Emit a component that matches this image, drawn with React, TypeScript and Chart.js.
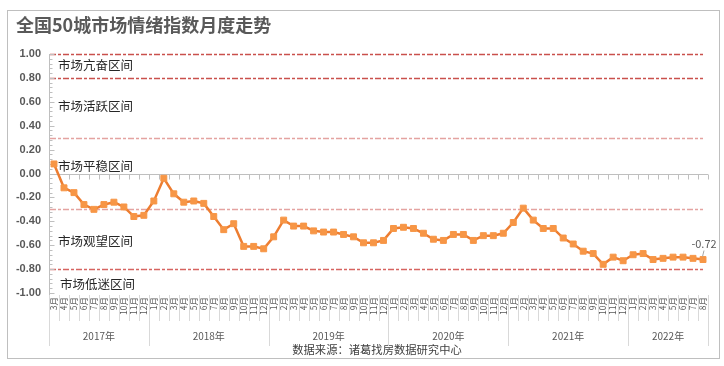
import React, { useEffect, useRef } from 'react';
import { Chart, registerables } from 'chart.js';

Chart.register(...registerables);

const titleText = '全国50城市场情绪指数月度走势';
const sourceText = '数据来源：诸葛找房数据研究中心';

const monthLabels = [
  '3月', '4月', '5月', '6月', '7月', '8月', '9月', '10月', '11月', '12月',
  '1月', '2月', '3月', '4月', '5月', '6月', '7月', '8月', '9月', '10月', '11月', '12月',
  '1月', '2月', '3月', '4月', '5月', '6月', '7月', '8月', '9月', '10月', '11月', '12月',
  '1月', '2月', '3月', '4月', '5月', '6月', '7月', '8月', '9月', '10月', '11月', '12月',
  '1月', '2月', '3月', '4月', '5月', '6月', '7月', '8月', '9月', '10月', '11月', '12月',
  '1月', '2月', '3月', '4月', '5月', '6月', '7月', '8月',
];

const yearLabels = ['2017年', '2018年', '2019年', '2020年', '2021年', '2022年'];
const monthsInYear = [10, 12, 12, 12, 12, 8];

const sentimentIndex = [
  0.08, -0.12, -0.16, -0.26, -0.30, -0.26, -0.24, -0.28, -0.36, -0.35,
  -0.23, -0.04, -0.17, -0.24, -0.23, -0.25, -0.36, -0.47, -0.42, -0.61, -0.61, -0.63,
  -0.53, -0.39, -0.44, -0.44, -0.48, -0.49, -0.49, -0.51, -0.53, -0.58, -0.58, -0.56,
  -0.46, -0.45, -0.46, -0.50, -0.55, -0.56, -0.51, -0.51, -0.56, -0.52, -0.52, -0.50,
  -0.41, -0.29, -0.39, -0.46, -0.46, -0.54, -0.59, -0.65, -0.67, -0.76, -0.70, -0.73,
  -0.68, -0.67, -0.72, -0.71, -0.70, -0.70, -0.71, -0.72,
];

const zoneLineValues = [1.0, 0.8, 0.3, -0.3, -0.8];
const zoneLineColors = ['#C9504C', '#C9504C', '#E4A3A1', '#E4A3A1', '#D66460'];

const zoneNames = ['市场亢奋区间', '市场活跃区间', '市场平稳区间', '市场观望区间', '市场低迷区间'];
const zoneNameValues = [0.905, 0.565, 0.063, -0.565, -0.925];

const CJK = '"Noto Sans CJK SC", "Noto Sans", sans-serif';

const decorPlugin = {
  id: 'decor',
  beforeDraw(chart: any) {
    const ctx = chart.ctx;
    ctx.save();
    ctx.fillStyle = '#ffffff';
    ctx.fillRect(0, 0, chart.width, chart.height);
    ctx.strokeStyle = '#BFBFBF';
    ctx.lineWidth = 1;
    ctx.strokeRect(7.5, 10.5, 712, 348);
    ctx.fillStyle = '#595959';
    ctx.font = `bold 18px ${CJK}`;
    ctx.textBaseline = 'middle';
    ctx.textAlign = 'left';
    ctx.fillText(titleText, 16, 25);
    ctx.fillStyle = '#404040';
    ctx.font = `11.3px ${CJK}`;
    ctx.textAlign = 'center';
    ctx.fillText(sourceText, 377, 350);
    ctx.restore();
  },
  beforeDatasetsDraw(chart: any) {
    const ctx = chart.ctx;
    const x = chart.scales.x;
    const y = chart.scales.y;
    const area = chart.chartArea;
    const n = monthLabels.length;
    const cw = (area.right - area.left) / n;
    ctx.save();
    // zone lines
    const lastX = x.getPixelForValue(n - 1);
    zoneLineValues.forEach((v, i) => {
      const py = Math.round(y.getPixelForValue(v)) + 0.5;
      ctx.strokeStyle = zoneLineColors[i];
      ctx.lineWidth = 1.3;
      ctx.setLineDash([6, 2, 3, 2]);
      ctx.beginPath();
      ctx.moveTo(area.left + 1, py);
      ctx.lineTo(lastX, py);
      ctx.stroke();
    });
    ctx.setLineDash([]);
    // zone names
    ctx.fillStyle = '#262626';
    ctx.font = `12.5px ${CJK}`;
    ctx.textBaseline = 'middle';
    ctx.textAlign = 'left';
    zoneNames.forEach((t, i) => {
      ctx.fillText(t, area.left + (i === 4 ? 11 : 9), y.getPixelForValue(zoneNameValues[i]));
    });
    // y axis line and ticks
    ctx.strokeStyle = '#BFBFBF';
    ctx.lineWidth = 1;
    const ax = Math.round(area.left) + 0.5;
    ctx.beginPath();
    ctx.moveTo(ax, area.top);
    ctx.lineTo(ax, 346);
    ctx.stroke();
    for (let k = 0; k <= 50; k++) {
      const v = -1 + k * 0.04;
      const py = Math.round(y.getPixelForValue(v)) + 0.5;
      const len = k % 5 === 0 ? 5 : 3;
      ctx.beginPath();
      ctx.moveTo(ax, py);
      ctx.lineTo(ax + len, py);
      ctx.stroke();
    }
    // horizontal axis at zero
    const zy = Math.round(y.getPixelForValue(0)) + 0.5;
    ctx.beginPath();
    ctx.moveTo(area.left, zy);
    ctx.lineTo(area.right, zy);
    ctx.stroke();
    for (let i = 0; i <= n; i++) {
      const bx = Math.round(area.left + i * cw) + 0.5;
      ctx.beginPath();
      ctx.moveTo(bx, zy);
      ctx.lineTo(bx, zy + 5);
      ctx.stroke();
    }
    // category separators under plot
    ctx.strokeStyle = '#D9D9D9';
    const yearStarts = new Set<number>();
    let acc = 0;
    yearStarts.add(0);
    monthsInYear.forEach((m) => { acc += m; yearStarts.add(acc); });
    for (let i = 0; i <= n; i++) {
      const bx = Math.round(area.left + i * cw) + 0.5;
      ctx.beginPath();
      ctx.moveTo(bx, area.bottom + 2);
      ctx.lineTo(bx, yearStarts.has(i) ? 346 : 321);
      ctx.stroke();
    }
    // year labels
    ctx.fillStyle = '#595959';
    ctx.font = `10px ${CJK}`;
    ctx.textAlign = 'center';
    let start = 0;
    yearLabels.forEach((t, i) => {
      const cx = area.left + (start + monthsInYear[i] / 2) * cw;
      ctx.fillText(t, cx, 336);
      start += monthsInYear[i];
    });
    ctx.restore();
  },
  afterDatasetsDraw(chart: any) {
    const ctx = chart.ctx;
    const meta = chart.getDatasetMeta(0);
    const last = meta.data[meta.data.length - 1];
    const v = sentimentIndex[sentimentIndex.length - 1];
    ctx.save();
    ctx.strokeStyle = '#A6A6A6';
    ctx.lineWidth = 1;
    ctx.beginPath();
    ctx.moveTo(last.x + 1, last.y - 9);
    ctx.lineTo(last.x - 0.5, last.y - 3);
    ctx.stroke();
    ctx.fillStyle = '#595959';
    ctx.font = `11px ${CJK}`;
    ctx.textAlign = 'center';
    ctx.textBaseline = 'middle';
    ctx.fillText(v.toFixed(2), last.x + 1, last.y - 16);
    ctx.restore();
  },
};

export default function App() {
  const canvasRef = useRef<HTMLCanvasElement | null>(null);

  useEffect(() => {
    const canvas = canvasRef.current;
    if (!canvas) return;
    const chart = new Chart(canvas, {
      type: 'line',
      data: {
        labels: monthLabels,
        datasets: [
          {
            data: sentimentIndex,
            borderColor: '#ED7D31',
            borderWidth: 2.5,
            pointStyle: 'rect',
            pointRadius: 4.2,
            pointBorderWidth: 1,
            pointBackgroundColor: '#F79646',
            pointBorderColor: '#F79646',
            tension: 0,
          },
        ],
      },
      options: {
        animation: false,
        responsive: false,
        layout: { padding: { left: 8, right: 16, top: 54, bottom: 0 } },
        plugins: {
          legend: { display: false },
          tooltip: { enabled: false },
          title: { display: false },
        },
        scales: {
          x: {
            type: 'category',
            offset: true,
            grid: { display: false, drawTicks: false },
            border: { display: false },
            ticks: {
              autoSkip: false,
              maxRotation: 90,
              minRotation: 90,
              padding: 4,
              color: '#595959',
              font: { family: CJK, size: 8.5 },
            },
            afterFit: (s: any) => { s.height = 73; },
          },
          y: {
            min: -1,
            max: 1,
            grid: { display: false, drawTicks: false },
            border: { display: false },
            ticks: {
              stepSize: 0.2,
              padding: 8,
              color: '#595959',
              font: { family: '"Liberation Sans", Arial, sans-serif', size: 11, weight: 'bold' },
              callback: (val: any) => {
                const n = Number(val);
                return Math.abs(n) < 1e-9 ? '0.00' : n.toFixed(2);
              },
            },
            afterFit: (s: any) => { s.width = 41; },
          },
        },
      },
      plugins: [decorPlugin],
    } as any);
    return () => chart.destroy();
  }, []);

  return (
    <div style={{ position: 'fixed', left: 0, top: 0, width: 724, height: 366, background: '#fff' }}>
      <canvas ref={canvasRef} width={724} height={366} style={{ width: 724, height: 366, display: 'block' }} />
    </div>
  );
}
